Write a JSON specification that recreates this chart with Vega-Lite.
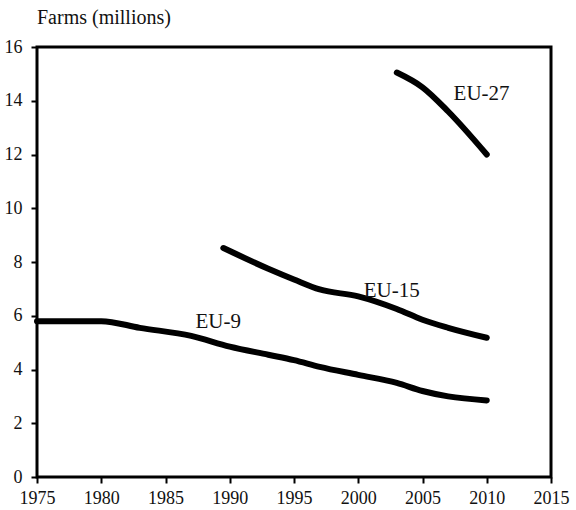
{
  "$schema": "https://vega.github.io/schema/vega-lite/v6.json",
  "width": 514,
  "height": 430,
  "autosize": "none",
  "padding": {"left": 37, "top": 47, "right": 25, "bottom": 33},
  "config": {
    "font": "Liberation Serif",
    "view": {"stroke": "black", "strokeWidth": 3}
  },
  "title": {"text": "Farms (millions)", "anchor": "start", "frame": "group", "font": "Liberation Serif", "fontSize": 20, "fontWeight": "normal", "color": "#111", "offset": 10},
  "datasets": {
    "series": [
      {"year": 1975, "farms": 5.8, "region": "EU-9"},
      {"year": 1980, "farms": 5.8, "region": "EU-9"},
      {"year": 1983, "farms": 5.55, "region": "EU-9"},
      {"year": 1987, "farms": 5.25, "region": "EU-9"},
      {"year": 1990, "farms": 4.85, "region": "EU-9"},
      {"year": 1993, "farms": 4.55, "region": "EU-9"},
      {"year": 1995, "farms": 4.35, "region": "EU-9"},
      {"year": 1997, "farms": 4.1, "region": "EU-9"},
      {"year": 2000, "farms": 3.8, "region": "EU-9"},
      {"year": 2003, "farms": 3.5, "region": "EU-9"},
      {"year": 2005, "farms": 3.2, "region": "EU-9"},
      {"year": 2007, "farms": 3.0, "region": "EU-9"},
      {"year": 2010, "farms": 2.85, "region": "EU-9"},
      {"year": 1989.5, "farms": 8.52, "region": "EU-15"},
      {"year": 1993, "farms": 7.75, "region": "EU-15"},
      {"year": 1995, "farms": 7.35, "region": "EU-15"},
      {"year": 1997, "farms": 6.98, "region": "EU-15"},
      {"year": 2000, "farms": 6.72, "region": "EU-15"},
      {"year": 2003, "farms": 6.25, "region": "EU-15"},
      {"year": 2005, "farms": 5.85, "region": "EU-15"},
      {"year": 2007, "farms": 5.55, "region": "EU-15"},
      {"year": 2010, "farms": 5.18, "region": "EU-15"},
      {"year": 2003, "farms": 15.05, "region": "EU-27"},
      {"year": 2005, "farms": 14.5, "region": "EU-27"},
      {"year": 2007, "farms": 13.6, "region": "EU-27"},
      {"year": 2010, "farms": 12.0, "region": "EU-27"}
    ],
    "labels": [
      {"year": 1989.1, "farms": 5.78, "region": "EU-9"},
      {"year": 2002.6, "farms": 6.93, "region": "EU-15"},
      {"year": 2009.6, "farms": 14.26, "region": "EU-27"}
    ]
  },
  "layer": [
    {
      "data": {"name": "series"},
      "mark": {"type": "line", "color": "black", "strokeWidth": 6, "strokeCap": "round", "strokeJoin": "round", "interpolate": "monotone"},
      "encoding": {
        "x": {"field": "year", "type": "quantitative", "scale": {"domain": [1975, 2015], "nice": false}, "axis": {"values": [1975, 1980, 1985, 1990, 1995, 2000, 2005, 2010, 2015], "format": "d", "title": null, "grid": false, "domain": false, "tickColor": "black", "tickWidth": 2, "tickSize": 6, "labelPadding": 6, "labelFlush": false, "labelOverlap": false, "labelFont": "Liberation Serif", "labelFontSize": 18, "labelColor": "#111"}},
        "y": {"field": "farms", "type": "quantitative", "scale": {"domain": [0, 16], "nice": false}, "axis": {"values": [0, 2, 4, 6, 8, 10, 12, 14, 16], "title": null, "grid": false, "domain": false, "tickColor": "black", "tickWidth": 2, "tickSize": 6, "labelPadding": 9, "labelFlush": false, "labelOverlap": false, "labelFont": "Liberation Serif", "labelFontSize": 18, "labelColor": "#111"}},
        "detail": {"field": "region"}
      }
    },
    {
      "data": {"name": "labels"},
      "mark": {"type": "text", "font": "Liberation Serif", "fontSize": 21, "color": "#111", "align": "center", "baseline": "middle"},
      "encoding": {
        "x": {"field": "year", "type": "quantitative"},
        "y": {"field": "farms", "type": "quantitative"},
        "text": {"field": "region"}
      }
    }
  ]
}
